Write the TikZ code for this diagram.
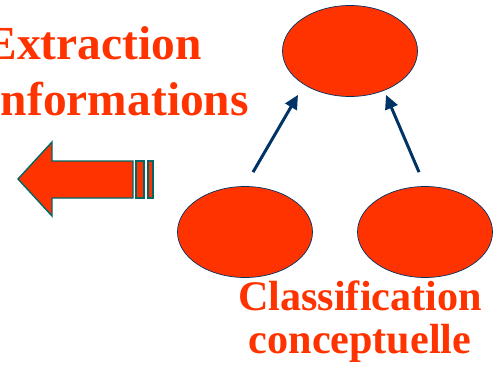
\documentclass[tikz,border=0pt]{standalone}
\usepackage{fontspec}
\setmainfont{Liberation Serif}
\usepackage{xcolor}
\usetikzlibrary{arrows.meta,shapes.geometric}
\definecolor{hot}{HTML}{FF3300}
\definecolor{navy}{HTML}{003366}
\definecolor{teal}{HTML}{006666}
\begin{document}
\begin{tikzpicture}[>={Triangle[length=2.8mm,width=2.6mm]},semithick]
    \tikzstyle{blob}=[ellipse, draw=navy, thin, fill=hot, minimum width=2.7cm, minimum height=1.82cm, inner sep=0pt]
    \tikzstyle{link}=[->, draw=navy, line width=1.7pt]
    \tikzstyle{big}=[text=hot, font=\bfseries\fontsize{27}{32}\selectfont, inner sep=0pt]
    \tikzstyle{mid}=[text=hot, font=\bfseries\fontsize{24}{29}\selectfont, inner sep=0pt]
    \useasboundingbox[fill=white] (0,0) rectangle (10,7.5);
    \node[blob] (top) at (7.0, 6.48){};
    \node[blob] (bl) at (4.9, 2.86){};
    \node[blob] (br) at (8.5, 2.86){};
    \node[big, anchor=base west] (ex) at (-0.3, 6.3){Extraction};
    \node[big, anchor=base west] (inf) at (-0.36, 5.2){Informations};
    \node[mid, anchor=base] (cl) at (7.2, 1.3){Classification};
    \node[mid, anchor=base] (co) at (7.2, 0.44){conceptuelle};
    \draw[link] ([shift={(0.16,0.28)}]bl.north) -- ([shift={(-1.04,0.04)}]top.south);
    \draw[link] ([shift={(-0.12,0.28)}]br.north) -- ([shift={(0.72,0.04)}]top.south);
    % block arrow
    \draw[teal, thick, fill=hot] (0.36,3.92) -- (1.04,4.66) -- (1.04,4.28) -- (2.66,4.28)
        -- (2.66,3.54) -- (1.04,3.54) -- (1.04,3.18) -- cycle;
    \draw[teal, thick, fill=hot] (2.72,4.28) rectangle (2.88,3.54);
    \draw[teal, thick, fill=hot] (2.96,4.28) rectangle (3.06,3.54);
\end{tikzpicture}
\end{document}
